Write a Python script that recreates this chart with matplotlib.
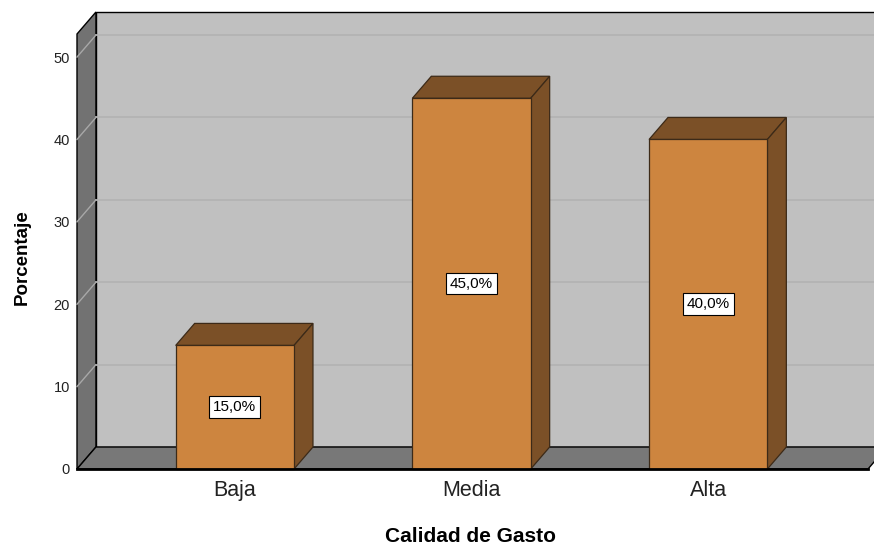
import matplotlib.pyplot as plt
from matplotlib.patches import Polygon

plt.rcParams['font.family'] = ['Liberation Sans', 'DejaVu Sans']

categories = ['Baja', 'Media', 'Alta']
percentages = [15.0, 45.0, 40.0]
y_ticks = [0, 10, 20, 30, 40, 50]

# pseudo-3D depth offset in data units
DX, DY = 0.080, 2.67
X0, X1 = -0.667, 2.675
TOP = 52.8
HALF = 0.25

fig = plt.figure(figsize=(8.74, 5.44), dpi=100)
ax = fig.add_axes([77 / 874, (544 - 469) / 544, (868 - 77) / 874, (469 - 34) / 544])
ax.set_xlim(X0, X1)
ax.set_ylim(0, TOP)
for s in ax.spines.values():
    s.set_visible(False)


def poly(pts, fc, ec='black', lw=1.0, z=1):
    p = Polygon(pts, closed=True, facecolor=fc, edgecolor=ec, linewidth=lw,
                zorder=z, clip_on=False, joinstyle='miter')
    ax.add_patch(p)


# walls and floor
poly([(X0 + DX, DY), (X1 + DX, DY), (X1 + DX, TOP + DY), (X0 + DX, TOP + DY)], '#c0c0c0', z=1)
poly([(X0, 0), (X0 + DX, DY), (X0 + DX, TOP + DY), (X0, TOP)], '#727272', z=1)
poly([(X0, 0), (X1, 0), (X1 + DX, DY), (X0 + DX, DY)], '#787878', z=2)

# gridlines on back and side walls
for v in y_ticks[1:]:
    ax.plot([X0 + DX, X1 + DX], [v + DY, v + DY], color='#b3b3b3', lw=1.3, zorder=1.5, clip_on=False)
    ax.plot([X0, X0 + DX], [v, v + DY], color='#a8a8a8', lw=1.0, zorder=1.5, clip_on=False)
ax.plot([X0, X1], [0, 0], color='black', lw=2.0, zorder=6, clip_on=False)

# bars
front_c, shade_c, edge_c = '#cd853f', '#7b5027', '#3c2a18'
for i, (cat, val) in enumerate(zip(categories, percentages)):
    l, r = i - HALF, i + HALF
    poly([(l, val), (r, val), (r + DX, val + DY), (l + DX, val + DY)], shade_c, edge_c, 0.9, 3)
    poly([(r, 0), (r + DX, DY), (r + DX, val + DY), (r, val)], shade_c, edge_c, 0.9, 3)
    poly([(l, 0), (r, 0), (r, val), (l, val)], front_c, edge_c, 0.9, 4)
    ax.text(i, val / 2, f'{val:.1f}%'.replace('.', ','), ha='center', va='center',
            fontsize=11, zorder=7,
            bbox=dict(boxstyle='square,pad=0.25', facecolor='white', edgecolor='black', linewidth=0.8))

ax.set_xticks(range(len(categories)))
ax.set_xticklabels(categories, fontsize=15.5, color='#222222')
ax.set_yticks(y_ticks)
ax.set_yticklabels([str(v) for v in y_ticks], fontsize=10.5, color='#222222')
ax.tick_params(axis='x', length=0, pad=8)
ax.tick_params(axis='y', length=0, pad=5)

fig.text(22 / 874, 1 - 257 / 544, 'Porcentaje', rotation=90, ha='center', va='center',
         fontsize=13.5, fontweight='bold')
fig.text(470 / 874, 1 - 536 / 544, 'Calidad de Gasto', ha='center', va='center',
         fontsize=15, fontweight='bold')

fig.savefig('out.png', dpi=100)
